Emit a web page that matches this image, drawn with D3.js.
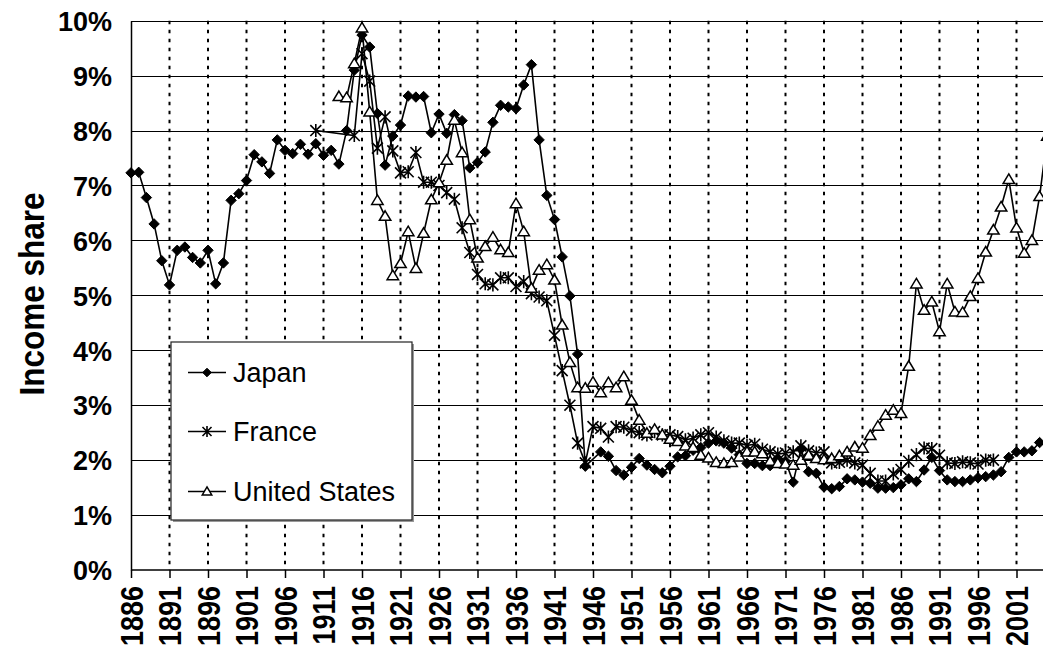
<!DOCTYPE html>
<html>
<head>
<meta charset="utf-8">
<script src="https://cdn.jsdelivr.net/npm/d3@7"></script>
<style>
  html, body { margin: 0; padding: 0; background: #fff; }
  svg { display: block; }
  text { font-family: "Liberation Sans", Arial, sans-serif; }
</style>
</head>
<body>
<svg id="chart" width="1043" height="654"></svg>
<script>
// ---------------- DATA ----------------
const yTickLabels = ["0%", "1%", "2%", "3%", "4%", "5%", "6%", "7%", "8%", "9%", "10%"];
const yTickValues = [0, 1, 2, 3, 4, 5, 6, 7, 8, 9, 10];
const xTickYears = [1886, 1891, 1896, 1901, 1906, 1911, 1916, 1921, 1926, 1931, 1936, 1941,
  1946, 1951, 1956, 1961, 1966, 1971, 1976, 1981, 1986, 1991, 1996, 2001];
const seriesNames = ["Japan", "France", "United States"];

const japanStart = 1886;
const japanValues = [
  7.23, 7.24, 6.78, 6.30, 5.63, 5.19, 5.82, 5.88, 5.69, 5.59,   // 1886-1895
  5.82, 5.21, 5.59, 6.73, 6.85, 7.09, 7.56, 7.43, 7.22, 7.83,   // 1896-1905
  7.64, 7.58, 7.75, 7.57, 7.76, 7.55, 7.64, 7.39, 8.00, 9.10,   // 1906-1915
  9.74, 9.52, 8.31, 7.37, 7.90, 8.10, 8.63, 8.61, 8.62, 7.96,   // 1916-1925
  8.30, 7.95, 8.29, 8.18, 7.32, 7.42, 7.61, 8.15, 8.46, 8.43,   // 1926-1935
  8.40, 8.83, 9.20, 7.83, 6.82, 6.38, 5.70, 4.99, 3.93, 1.89,   // 1936-1945
  null, 2.15, 2.07, 1.81, 1.73, 1.87, 2.03, 1.91, 1.83, 1.77,   // 1946-1955
  1.89, 2.06, 2.08, 2.18, 2.23, 2.31, 2.35, 2.31, 2.22, 2.10,   // 1956-1965
  1.94, 1.94, 1.90, 1.90, 2.02, 1.98, 1.60, 2.20, 1.79, 1.76,   // 1966-1975
  1.51, 1.48, 1.52, 1.66, 1.64, 1.60, 1.58, 1.49, 1.49, 1.50,   // 1976-1985
  1.55, 1.66, 1.61, 1.82, 2.05, 1.81, 1.64, 1.61, 1.61, 1.64,   // 1986-1995
  1.68, 1.70, 1.73, 1.79, 2.05, 2.15, 2.15, 2.17, 2.32          // 1996-2004
];

const franceStart = 1910;
const franceValues = [
  8.00, null, null, null, null, 7.91,                           // 1910-1915
  9.40, 8.90, 7.68, 8.25, 7.63, 7.23, 7.25, 7.60, 7.06, 7.06,   // 1916-1925
  7.00, 6.87, 6.75, 6.23, 5.78, 5.38, 5.21, 5.19, 5.32, 5.32,   // 1926-1935
  5.16, 5.25, 5.03, 4.97, 4.90, 4.27, 3.63, 3.00, 2.31, 1.95,   // 1936-1945
  2.61, 2.58, 2.42, 2.61, 2.60, 2.54, 2.50, 2.46, 2.52, 2.46,   // 1946-1955
  2.46, 2.43, 2.37, 2.40, 2.46, 2.50, 2.42, 2.35, 2.31, 2.31,   // 1956-1965
  2.27, 2.29, 2.20, 2.15, 2.11, 2.13, 2.15, 2.26, 2.17, 2.13,   // 1966-1975
  2.15, 1.95, 1.96, 2.00, 1.95, 1.91, 1.76, 1.62, 1.62, 1.75,   // 1976-1985
  1.83, 1.98, 2.10, 2.22, 2.21, 2.09, 1.95, 1.94, 1.97, 1.95,   // 1986-1995
  1.93, 2.00, 2.00                                              // 1996-1998
];

const usStart = 1913;
const usValues = [
  8.62, 8.60, 9.22,                                             // 1913-1915
  9.87, 8.34, 6.73, 6.44, 5.36, 5.58, 6.16, 5.49, 6.13, 6.74,   // 1916-1925
  7.05, 7.46, 8.19, 7.60, 6.38, 5.68, 5.89, 6.06, 5.83, 5.78,   // 1926-1935
  6.67, 6.16, 5.13, 5.46, 5.56, 5.28, 4.46, 3.78, 3.32, 3.31,   // 1936-1945
  3.42, 3.23, 3.41, 3.32, 3.52, 3.09, 2.73, 2.49, 2.56, 2.46,   // 1946-1955
  2.38, 2.34, 2.26, 2.23, 2.09, 2.04, 1.96, 1.94, 1.96, 2.06,   // 1956-1965
  2.15, 2.15, 2.12, 1.98, 1.94, 1.93, 1.91, 2.00, 2.09, 2.03,   // 1966-1975
  2.01, 2.03, 2.08, 2.15, 2.24, 2.22, 2.45, 2.62, 2.82, 2.91,   // 1976-1985
  2.85, 3.71, 5.21, 4.73, 4.88, 4.34, 5.21, 4.70, 4.69, 4.98,   // 1986-1995
  5.31, 5.79, 6.19, 6.61, 7.11, 6.23, 5.77, 6.00, 6.80, 7.90    // 1996-2005
];

// ---------------- LAYOUT ----------------
const svg = d3.select("#chart");
const W = 1043, H = 654;
const plotLeft = 131, plotTop = 20.7, plotBottom = 570;
const pxPerYear = 7.7;

const x = d3.scaleLinear().domain([1886, 2005]).range([plotLeft, plotLeft + 119 * pxPerYear]);
const y = d3.scaleLinear().domain([0, 10]).range([plotBottom, plotTop]);

const toPoints = (start, vals) => vals.map((v, i) => ({ year: start + i, value: v })).filter(d => d.value !== null);
const series = [
  { name: seriesNames[0], pts: toPoints(japanStart, japanValues), marker: "diamond" },
  { name: seriesNames[1], pts: toPoints(franceStart, franceValues), marker: "star" },
  { name: seriesNames[2], pts: toPoints(usStart, usValues), marker: "triangle" }
];

// ---------------- GRID ----------------
const grid = svg.append("g");
grid.selectAll("line.h").data(yTickValues.filter(v => v > 0)).enter().append("line")
  .attr("x1", plotLeft).attr("x2", W)
  .attr("y1", d => Math.round(y(d)) + 0.5).attr("y2", d => Math.round(y(d)) + 0.5)
  .attr("stroke", "#000").attr("stroke-width", 1.2);
grid.selectAll("line.v").data(xTickYears.filter(t => t > 1886)).enter().append("line")
  .attr("x1", d => x(d)).attr("x2", d => x(d))
  .attr("y1", plotTop).attr("y2", plotBottom)
  .attr("stroke", "#000").attr("stroke-width", 2).attr("stroke-dasharray", "3.5,5.5");

// ---------------- AXES ----------------
const xAxis = d3.axisBottom(x).tickValues(xTickYears).tickSize(8).tickFormat(d3.format("d"));
const gx = svg.append("g").attr("transform", `translate(0,${plotBottom})`).call(xAxis);
gx.select(".domain").attr("stroke", "#000").attr("stroke-width", 1.5).attr("d", `M${plotLeft},0H${W}`);
gx.selectAll(".tick line").attr("stroke", "#000").attr("stroke-width", 1.5);
gx.selectAll(".tick text")
  .attr("font-size", 27).attr("font-weight", "bold").attr("fill", "#000")
  .attr("text-anchor", "end").attr("dominant-baseline", "central")
  .attr("dy", null).attr("y", 0)
  .attr("transform", "translate(0,16) rotate(-90) scale(1,1.17)");

const yAxis = d3.axisLeft(y).tickValues(yTickValues).tickSize(0).tickPadding(0)
  .tickFormat((d, i) => yTickLabels[i]);
const gy = svg.append("g").attr("transform", `translate(${plotLeft},0)`).call(yAxis);
gy.select(".domain").attr("stroke", "#000").attr("stroke-width", 1.5);
gy.selectAll(".tick text")
  .attr("font-size", 27).attr("font-weight", "bold").attr("fill", "#000")
  .attr("x", -19).attr("dy", "0.36em");

// y title
svg.append("text")
  .attr("transform", `translate(32,294) rotate(-90) scale(1,1.1)`)
  .attr("text-anchor", "middle").attr("dominant-baseline", "central")
  .attr("font-size", 31.5).attr("font-weight", "bold").attr("fill", "#000")
  .text("Income share");

// ---------------- MARKERS ----------------
function drawMarker(g, type, cx, cy, s) {
  if (type === "diamond") {
    g.append("path").attr("d", `M${cx},${cy - s}L${cx + s},${cy}L${cx},${cy + s}L${cx - s},${cy}Z`)
      .attr("fill", "#000").attr("stroke", "#000").attr("stroke-width", 1);
  } else if (type === "triangle") {
    const h = s * 1.05;
    g.append("path").attr("d", `M${cx},${cy - h}L${cx + s * 1.1},${cy + h * 0.75}L${cx - s * 1.1},${cy + h * 0.75}Z`)
      .attr("fill", "#fff").attr("stroke", "#000").attr("stroke-width", 1.5);
  } else {
    const a = s * 1.05;
    g.append("path").attr("d",
      `M${cx - a},${cy - a}L${cx + a},${cy + a}M${cx - a},${cy + a}L${cx + a},${cy - a}M${cx},${cy - a * 1.2}L${cx},${cy + a * 1.2}`)
      .attr("fill", "none").attr("stroke", "#000").attr("stroke-width", 1.6);
  }
}

const line = d3.line().x(d => x(d.year)).y(d => y(d.value));
const plot = svg.append("g");
series.forEach(s => {
  const g = plot.append("g");
  g.append("path").datum(s.pts).attr("d", line)
    .attr("fill", "none").attr("stroke", "#000").attr("stroke-width", 1.6);
  s.pts.forEach(d => drawMarker(g, s.marker, x(d.year), y(d.value), 5.2));
});

// ---------------- LEGEND ----------------
const lg = svg.append("g");
const lx = 171, ly = 342, lw = 241, lh = 178;
lg.append("rect").attr("x", lx + 2).attr("y", ly + 2).attr("width", lw).attr("height", lh).attr("fill", "#999");
lg.append("rect").attr("x", lx).attr("y", ly).attr("width", lw).attr("height", lh)
  .attr("fill", "#fff").attr("stroke", "#222").attr("stroke-width", 1.2);
const legendY = [372.5, 431.5, 491.5];
series.forEach((s, i) => {
  const yy = legendY[i];
  lg.append("line").attr("x1", 188).attr("x2", 226).attr("y1", yy).attr("y2", yy)
    .attr("stroke", "#000").attr("stroke-width", 1.6);
  drawMarker(lg, s.marker, 207, yy, 4.3);
  lg.append("text").attr("x", 233).attr("y", yy).attr("dy", "0.36em")
    .attr("font-size", 27).attr("fill", "#000").text(s.name);
});
</script>
</body>
</html>
